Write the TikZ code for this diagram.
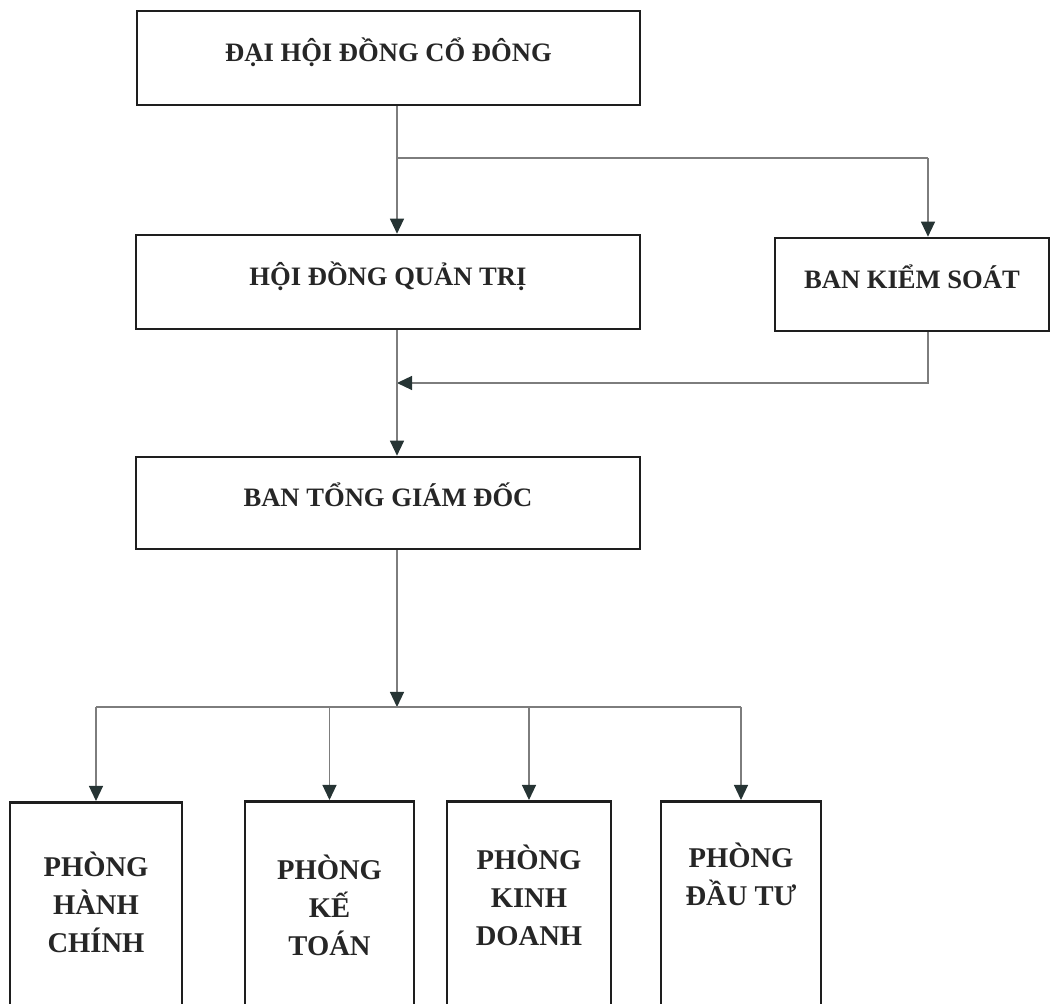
\documentclass[tikz,border=0pt]{standalone}
\usepackage{fontspec}
\setmainfont{Liberation Serif}
\usetikzlibrary{arrows.meta}
\definecolor{linegray}{RGB}{125,125,125}
\definecolor{tipdark}{RGB}{38,52,52}
\definecolor{boxline}{RGB}{30,30,30}
\newcommand{\dtext}[2]{\parbox[c][110pt][t]{78pt}{\centering\vspace*{#1}#2}}

\begin{document}
\begin{tikzpicture}[
    x=0.5pt, y=-0.5pt,
    box/.style={draw=boxline, line width=1.3pt, minimum height=47pt, inner sep=0pt, text height=9pt, text depth=5pt, font=\fontsize{13.3pt}{16pt}\selectfont\bfseries, text=black!85},
    dept/.style={draw=boxline, line width=1.3pt, inner sep=0pt, anchor=north, font=\fontsize{14.3pt}{19pt}\selectfont\bfseries, text=black!85},
    conn/.style={draw=linegray, line width=0.6pt},
    flow/.style={-{Triangle[width=7pt, length=7.5pt, color=tipdark]}}
]
    \clip (0,0) rectangle (1051,1004);

    \node[box, minimum width=251.5pt] (dhdcd) at (388.5,58) {ĐẠI HỘI ĐỒNG CỔ ĐÔNG};
    \node[box, minimum width=252pt] (hdqt) at (388,282) {HỘI ĐỒNG QUẢN TRỊ};
    \node[box, minimum width=137pt, minimum height=46.5pt] (bks) at (912,284.5) {BAN KIỂM SOÁT};
    \node[box, minimum width=252pt, minimum height=46pt] (btgd) at (388,503) {BAN TỔNG GIÁM ĐỐC};

    % Phong ban
    \node[dept, minimum width=86pt] (hc) at (96,801) {\dtext{25pt}{PHÒNG\\HÀNH\\CHÍNH}};
    \node[dept, minimum width=84.5pt] (kt) at (329.5,800) {\dtext{27pt}{PHÒNG\\KẾ\\TOÁN}};
    \node[dept, minimum width=82pt] (kd) at (529,800) {\dtext{22pt}{PHÒNG\\KINH\\DOANH}};
    \node[dept, minimum width=80pt] (dt) at (741,800) {\dtext{21pt}{PHÒNG\\ĐẦU TƯ}};

    \coordinate (j1) at (397,158);
    \coordinate (j2) at (928,158);
    \coordinate (j3) at (397,383);
    \coordinate (j4) at (397,707);

    % Connections
    \draw[conn] (dhdcd.south -| j1) -- (j1) -- (j2);
    \draw[conn, flow] (j1) -- (hdqt.north -| j1);
    \draw[conn, flow] (j2) -- (bks.north -| j2);
    \draw[conn, flow] (bks.south -| j2) |- (j3);
    \draw[conn, flow] (hdqt.south -| j3) -- (btgd.north -| j3);
    \draw[conn, flow] (btgd.south -| j4) -- (j4);
    \draw[conn] (hc.north |- j4) -- (dt.north |- j4);
    \foreach \d in {hc,kt,kd,dt}
        \draw[conn, flow] (\d.north |- j4) -- (\d.north);
\end{tikzpicture}
\end{document}
